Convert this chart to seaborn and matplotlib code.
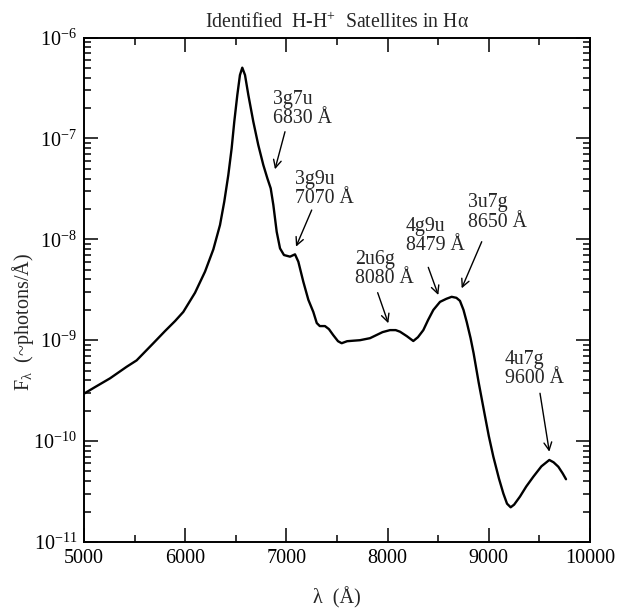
import numpy as np
import pandas as pd
import matplotlib
matplotlib.use("Agg")
import matplotlib.pyplot as plt
from matplotlib.ticker import FuncFormatter, NullFormatter, LogLocator, MultipleLocator
import seaborn as sns

# ---- data ----
wavelength = [5000, 5100, 5257, 5422, 5520, 5685, 5800, 5900, 5981, 6097,
              6196, 6278, 6344, 6386, 6426, 6459, 6485, 6515, 6541, 6564,
              6591, 6624, 6673, 6722, 6772, 6812, 6845, 6871, 6904, 6937,
              6976, 7036, 7085, 7118, 7167, 7217, 7266, 7300, 7330, 7381,
              7420, 7463, 7510, 7546, 7600, 7661, 7727, 7826, 7950, 8024,
              8080, 8123, 8190, 8254, 8300, 8353, 8400, 8452, 8518, 8580,
              8633, 8680, 8715, 8750, 8782, 8820, 8850, 8900, 8960, 9000,
              9045, 9100, 9144, 9180, 9216, 9250, 9308, 9370, 9440, 9520,
              9598, 9640, 9687, 9730, 9763]
log_flux = [-9.53, -9.47, -9.378, -9.263, -9.20, -9.03, -8.91, -8.81, -8.72, -8.53,
            -8.32, -8.10, -7.858, -7.627, -7.363, -7.098, -6.834, -6.57, -6.372, -6.299,
            -6.372, -6.57, -6.834, -7.065, -7.264, -7.396, -7.495, -7.66, -7.925, -8.09,
            -8.156, -8.172, -8.149, -8.222, -8.42, -8.60, -8.72, -8.83, -8.86, -8.86,
            -8.89, -8.95, -9.01, -9.03, -9.01, -9.005, -9.0, -8.98, -8.92, -8.90,
            -8.90, -8.916, -8.96, -9.008, -8.97, -8.90, -8.80, -8.70, -8.62, -8.59,
            -8.57, -8.58, -8.61, -8.70, -8.82, -8.98, -9.13, -9.42, -9.74, -9.95,
            -10.155, -10.37, -10.52, -10.62, -10.656, -10.63, -10.55, -10.45, -10.353, -10.25,
            -10.187, -10.21, -10.254, -10.32, -10.378]
flux = [10.0 ** v for v in log_flux]

labels = ["3g7u\n6830 Å", "3g9u\n7070 Å", "2u6g\n8080 Å",
          "4g9u\n8479 Å", "3u7g\n8650 Å", "4u7g\n9600 Å"]
label_x = [6865, 7085, 7678, 8182, 8797, 9160]
label_logy = [-6.52, -7.313, -8.106, -7.776, -7.544, -9.097]
arrow_tail_x = [6986, 7250, 7902, 8402, 8930, 9506]
arrow_tail_logy = [-6.934, -7.710, -8.529, -8.278, -8.024, -9.526]
arrow_head_x = [6887, 7095, 8007, 8501, 8732, 9598]
arrow_head_logy = [-7.306, -8.073, -8.832, -8.552, -8.486, -10.105]

df = pd.DataFrame({"wavelength": wavelength, "flux": flux})

# ---- style ----
sns.set_style("ticks")
plt.rcParams["font.family"] = ["Liberation Serif", "DejaVu Serif"]
plt.rcParams["mathtext.default"] = "regular"

fig = plt.figure(figsize=(6.37, 6.16), dpi=100)
ax = fig.add_axes([84 / 637, 1 - 542 / 616, 506 / 637, 504.5 / 616])

sns.lineplot(data=df, x="wavelength", y="flux", ax=ax, color="black", lw=1.7)
ax.set_yscale("log")
ax.set_xlim(5000, 10000)
ax.set_ylim(1e-11, 1e-6)

ax.xaxis.set_major_locator(MultipleLocator(1000))
ax.xaxis.set_minor_locator(MultipleLocator(500))
ax.yaxis.set_major_locator(LogLocator(base=10, numticks=10))
ax.yaxis.set_minor_locator(LogLocator(base=10, subs=np.arange(2, 10), numticks=20))
ax.yaxis.set_major_formatter(FuncFormatter(lambda v, p: "$10^{%d}$" % int(round(np.log10(v)))))
ax.yaxis.set_minor_formatter(NullFormatter())

ax.tick_params(which="both", direction="in", top=True, right=True, width=1.1, colors="black")
ax.tick_params(which="major", length=10, labelsize=14.5, pad=5)
ax.tick_params(which="minor", length=5)
for s in ax.spines.values():
    s.set_linewidth(1.4)
    s.set_color("black")

ax.set_xlabel("λ  (Å)", fontsize=14.5)
ax.set_ylabel("F$_{λ}$  (~photons/Å)", fontsize=14.5)
ax.xaxis.set_label_coords(0.5, -0.09)
ax.yaxis.set_label_coords(-0.095, 0.436)
ax.set_title("Identified  H-H$^{+}$  Satellites in Hα", fontsize=14.2, pad=7)

for t, tx, ty, ax0, ay0, hx, hy in zip(labels, label_x, label_logy, arrow_tail_x,
                                        arrow_tail_logy, arrow_head_x, arrow_head_logy):
    ax.text(tx, 10.0 ** ty, t, ha="left", va="top", fontsize=14.3, linespacing=1.02)
    ax.annotate("", xy=(hx, 10.0 ** hy), xytext=(ax0, 10.0 ** ay0),
                arrowprops=dict(arrowstyle="->", color="black", lw=1.0,
                                shrinkA=0, shrinkB=0, mutation_scale=14))

fig.savefig("out.png", dpi=100)
